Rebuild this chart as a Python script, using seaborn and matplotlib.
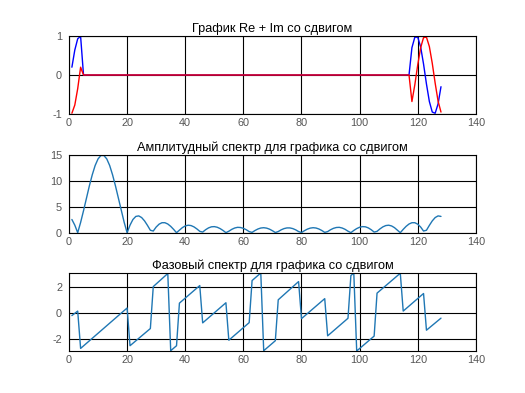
import numpy as np
import pandas as pd
import matplotlib
matplotlib.use('Agg')
import matplotlib.pyplot as plt
import seaborn as sns

# ---- данные ----
# сигнал со сдвигом: ненулевой в 1..4 и 118..128
n = list(range(1, 129))
re_vals = [0.20, 0.64, 0.93, 0.99] + [0.0] * 113 + \
          [0.70, 0.97, 0.97, 0.72, 0.28, -0.23, -0.68, -0.95, -0.98, -0.74, -0.30]
im_vals = [-0.98, -0.77, -0.35, 0.20] + [0.0] * 113 + \
          [-0.68, -0.25, 0.26, 0.70, 0.96, 0.97, 0.73, 0.30, -0.21, -0.67, -0.95]

# амплитудный спектр, x = 1..128
amp = [2.60, 1.51, 0.06, 2.03, 4.28, 6.68, 9.04, 11.18, 12.98, 14.25,
       14.91, 14.91, 14.25, 12.98, 11.18, 9.04, 6.68, 4.28, 2.03, 0.06,
       1.51, 2.60, 3.19, 3.29, 2.97, 2.33, 1.47, 0.53, 0.38, 1.15,
       1.70, 1.98, 1.98, 1.73, 1.28, 0.70, 0.06, 0.54, 1.03, 1.36,
       1.50, 1.43, 1.18, 0.79, 0.32, 0.18, 0.63, 0.98, 1.19, 1.23,
       1.11, 0.85, 0.49, 0.07, 0.34, 0.70, 0.96, 1.09, 1.06, 0.90,
       0.63, 0.27, 0.12, 0.48, 0.77, 0.96, 1.02, 0.94, 0.74, 0.44,
       0.09, 0.28, 0.61, 0.85, 0.98, 0.98, 0.85, 0.61, 0.28, 0.09,
       0.44, 0.74, 0.94, 1.02, 0.96, 0.77, 0.48, 0.12, 0.27, 0.63,
       0.90, 1.06, 1.09, 0.96, 0.71, 0.35, 0.07, 0.49, 0.85, 1.11,
       1.23, 1.19, 0.98, 0.63, 0.18, 0.32, 0.79, 1.18, 1.43, 1.50,
       1.36, 1.03, 0.54, 0.06, 0.70, 1.28, 1.73, 1.98, 1.98, 1.70,
       1.15, 0.38, 0.53, 1.47, 2.33, 2.97, 3.29, 3.19]

# фазовый спектр: вершины ломаной
ph_x = [1, 3, 4, 20, 21, 28, 29, 34, 35, 37, 38, 45, 46, 54, 55, 62, 63, 66,
        67, 71, 72, 79, 80, 88, 89, 96, 97, 98, 99, 105, 106, 114, 115, 122,
        123, 128]
ph_y = [-0.20, 0.15, -2.76, 0.39, -2.55, -1.21, 2.06, 3.08, -2.94, -2.55,
        0.77, 2.14, -0.77, 0.80, -2.12, -0.75, 2.53, 3.12, -2.94, -2.16,
        1.03, 2.45, -0.44, 1.12, -1.78, -0.41, 2.92, 3.12, -2.96, -1.80,
        1.55, 3.10, 0.15, 1.52, -1.34, -0.40]

titles = ['График Re + Im со сдвигом',
          'Амплитудный спектр для графика со сдвигом',
          'Фазовый спектр для графика со сдвигом']
x_ticks = [0, 20, 40, 60, 80, 100, 120, 140]

sns.set_style('white')
plt.rcParams['font.family'] = ['Liberation Sans', 'DejaVu Sans']
plt.rcParams['axes.unicode_minus'] = False

fig = plt.figure(figsize=(5.25, 3.93), dpi=100)
bottoms = [0.7099, 0.4071, 0.1069]
axes = [fig.add_axes([0.1314, b, 0.775, 0.1985]) for b in bottoms]

line_blue = '#1f77b4'

# 1 - Re и Im
ax = axes[0]
sns.lineplot(x=n, y=re_vals, ax=ax, color='#0000ff', lw=1.0)
sns.lineplot(x=n, y=im_vals, ax=ax, color='#ff0000', lw=1.0)
ax.set_ylim(-1, 1)
ax.set_yticks([-1, 0, 1])

# 2 - амплитудный спектр
ax = axes[1]
sns.lineplot(x=n, y=amp, ax=ax, color=line_blue, lw=1.0)
ax.set_ylim(0, 15)
ax.set_yticks([0, 5, 10, 15])

# 3 - фазовый спектр
ax = axes[2]
sns.lineplot(x=ph_x, y=ph_y, ax=ax, color=line_blue, lw=1.0)
ax.set_ylim(min(ph_y), max(ph_y))
ax.set_yticks([-2, 0, 2])

for ax, t in zip(axes, titles):
    ax.set_xlim(0, 140)
    ax.set_xticks(x_ticks)
    ax.set_title(t, fontsize=9.2, color='black', pad=3)
    ax.grid(True, color='black', lw=0.8)
    ax.set_axisbelow(True)
    ax.tick_params(axis='both', length=0, labelsize=7.8, labelcolor='#555555')
    ax.tick_params(axis='y', pad=5)
    ax.tick_params(axis='x', pad=3)
    for s in ax.spines.values():
        s.set_color('black')
        s.set_linewidth(0.8)
    ax.set_xlabel('')
    ax.set_ylabel('')

fig.savefig('out.png', dpi=100, facecolor='white')
